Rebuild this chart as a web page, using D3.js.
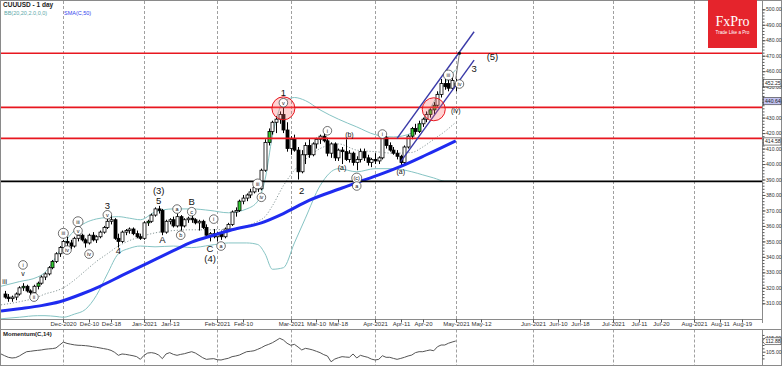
<!DOCTYPE html>
<html><head><meta charset="utf-8">
<script src="https://cdnjs.cloudflare.com/ajax/libs/d3/7.8.5/d3.min.js"></script>
<style>body{margin:0;background:#fff}svg{display:block;font-family:"Liberation Sans",Arial,sans-serif}</style>
</head><body><svg id="c" width="782" height="366"></svg>
<script>
// ---------------- DATA ----------------
const title = "CUUUSD - 1 day";
const bbLabel = "BB(20,20,2.0,0,0)";
const smaLabel = "SMA(C,50)";
const momLabel = "Momentum(C,14)";
const holidays = ["2020-12-25", "2021-01-01"];
const candleStart = "2020-11-09";
// [open, high, low, close] one per trading day from candleStart
const candles = [
[316,318,313,314],[314,316,311,313],[313,315,311,314],[314,317,312,316],[316,321,315,320],
[320,323,318,321],[321,322,317,318],[318,319,314,317],[317,322,316,321],[321,324,319,323],
[323,328,322,327],[327,330,325,329],[329,334,328,333],[333,338,332,337],[337,343,336,342],
[342,347,340,346],[346,351,344,350],[350,353,347,349],[349,351,345,347],[347,353,346,352],
[352,356,350,354],[354,355,350,351],[351,352,346,349],[349,355,348,354],[354,356,350,351],
[351,354,349,353],[353,357,352,356],[356,360,355,359],[359,365,358,363],[363,367,361,364],
[364,365,351,352],[352,355,346,350],[350,357,349,356],[356,358,354,357],[357,359,355,358],
[358,359,354,355],[355,357,352,353],[353,355,351,352],[352,363,351,362],[362,364,360,363],
[363,368,362,367],[367,372,366,371],[371,373,368,370],[370,371,354,356],[356,364,355,363],
[363,365,361,364],[364,366,359,360],[360,368,359,366],[366,367,357,360],[360,365,359,364],
[364,366,362,365],[365,367,362,364],[364,365,361,362],[362,364,357,363],[363,364,358,359],
[359,361,353,354],[354,356,350,355],[355,358,352,353],[353,356,350,355],[355,357,351,353],
[353,359,352,358],[358,362,357,361],[361,370,360,369],[369,372,366,370],[370,377,369,376],
[376,380,374,378],[378,381,376,380],[380,384,378,382],[382,386,381,385],[385,387,382,384],
[384,397,383,396],[396,416,395,414],[414,423,412,421],[421,428,419,427],[427,431,420,429],
[429,434,426,432],[432,441,420,422],[422,427,408,410],[410,418,406,416],[416,419,408,409],
[409,411,390,395],[395,409,394,406],[406,414,400,412],[412,416,404,406],[406,414,405,413],
[413,417,410,416],[416,419,413,418],[418,420,414,415],[415,417,405,407],[407,414,404,413],
[413,414,402,404],[404,410,402,409],[409,411,400,408],[408,416,402,403],[403,409,401,407],
[407,408,399,401],[401,405,396,403],[403,410,401,408],[408,410,402,404],[404,406,399,401],
[401,404,398,403],[403,407,400,402],[402,405,400,404],[404,419,403,417],[417,418,410,412],
[412,414,408,409],[409,411,406,407],[407,409,403,405],[405,406,399,401],[401,412,400,411],
[411,419,410,418],[418,424,416,423],[423,426,419,421],[421,428,420,426],[426,430,424,429],
[429,434,427,432],[432,436,430,435],[435,440,432,438],[438,447,437,445],[445,455,443,452],
[452,455,448,450],[452,456,447,449],[449,456,448,454],[450,455,447,452]
];
const greenBars = ["2020-11-16","2020-11-20","2020-11-26","2021-01-05","2021-02-09","2021-02-19","2021-04-15","2021-04-19","2021-04-22","2021-04-23"];
// Bollinger band readings
const bbDates = ["2020-11-06","2020-11-13","2020-11-20","2020-11-24","2020-11-27","2020-12-01","2020-12-04","2020-12-09","2020-12-14","2020-12-17","2020-12-22","2020-12-28","2020-12-31","2021-01-07","2021-01-14","2021-01-21","2021-01-28","2021-02-04","2021-02-11","2021-02-16","2021-02-18","2021-02-22","2021-02-25","2021-03-02","2021-03-05","2021-03-11","2021-03-18","2021-03-25","2021-04-01","2021-04-08","2021-04-15","2021-04-20","2021-04-23","2021-04-28","2021-05-03"];
const bbUpper = [321,324,327,330,340,348,357,362,364.5,365.5,366,365,364,369,371,371,370,368.5,371,376,390,418,440,443,441,435,429,424,419,417.5,420,428,440,452,461];
const bbMiddle = [309,311,314,316,318,320,325,331,337,342,347,350.5,353,355.5,357,357.5,357.5,358,360,363,366,373,386,396,403,410,413,409,408,407,407.5,411,416,421,427];
const bbLower = [300,301,302,302,301.5,301,303,306,315,329,342,345.5,347,346.5,347,346,347.5,349,349,348,342,332,333,349,365,386,397,395,397,397,395,393,391,389,389];
// SMA(C,50) readings
const smaDates = ["2020-11-06","2020-11-13","2020-11-23","2020-11-30","2020-12-08","2020-12-15","2020-12-23","2021-01-05","2021-01-14","2021-01-21","2021-01-29","2021-02-05","2021-02-17","2021-02-25","2021-03-08","2021-03-19","2021-03-25","2021-04-02","2021-04-12","2021-04-21","2021-05-03"];
const smaValues = [305,306.5,308.5,311,316,321,328,336,344,349.5,354,357.5,362,368,376.5,384.5,388,393,398.5,406,415];
// Momentum(C,14) one per trading day from momStart
const momStart = "2020-11-06";
const momentum = [103.3,102.0,100.8,100.3,100.6,101.8,103.5,105.0,105.3,105.7,106.0,106.3,106.8,107.1,107.3,107.8,110.0,
112.2,111.2,110.6,110.1,109.8,109.7,109.5,109.2,108.7,108.3,107.8,107.3,106.8,106.0,104.5,102.3,103.3,103.0,102.5,102.0,101.3,99.3,
102.3,104.0,104.3,103.8,102.5,99.8,103.3,104.3,103.0,102.3,103.0,103.5,104.3,105.0,104.0,102.3,100.5,99.3,99.6,99.8,
99.0,98.8,99.5,100.1,101.3,101.8,102.5,103.8,105.0,105.3,105.7,106.8,108.0,109.5,110.5,111.7,113.3,115.0,113.7,111.3,
109.8,110.5,108.5,106.3,107.5,107.0,106.3,105.3,104.3,102.8,101.8,97.5,99.5,100.5,101.3,101.0,100.8,103.3,100.3,102.3,101.5,100.8,99.5,
98.8,99.3,102.0,100.8,100.8,100.0,99.3,100.0,100.8,101.8,102.5,104.3,105.0,105.0,105.7,106.3,105.7,108.7,110.0,110.0,111.3,112.2,113.0];
// horizontal levels
const redLevels = [471.6, 436.6, 416.6];
const blackLevels = [388.8];
// wave channel lines [date1, price1, date2, price2]
const channels = [["2021-04-09",416.6,"2021-05-10",485.5],["2021-04-12",401.6,"2021-05-10",467.2]];
const target = ["2021-05-03",455,"2021-05-04",471.6];
const circles = [["2021-02-25",436.0],["2021-04-23",435.4]];
// wave labels [date, price, text, kind]  kind: n=big plain, p=small plain, c=circled
const waveLabels = [
["2020-11-09",324,"iii","p"],["2020-11-16",334.8,"i","c"],["2020-11-16",329.4,"v","p"],["2020-11-19",314,"ii","c"],
["2020-12-01",355.2,"iii","c"],["2020-12-02",344.4,"iv","c"],["2020-12-07",362.7,"iii","c"],["2020-12-07",356.9,"v","c"],
["2020-12-10",341.8,"iv","c"],["2020-12-17",367.2,"v","c"],["2020-12-17",373.5,"3","n"],["2020-12-22",344.4,"4","n"],
["2021-01-08",376.5,"5","n"],["2021-01-08",383.2,"(3)","n"],["2021-01-11",351.5,"A","n"],["2021-01-15",370.9,"a","c"],
["2021-01-18",354,"b","c"],["2021-01-21",376.1,"B","n"],["2021-01-21",369.2,"c","c"],["2021-01-29",364.4,"i","c"],
["2021-01-28",345.7,"C","n"],["2021-01-28",339.2,"(4)","n"],["2021-02-02",347,"a","c"],["2021-02-16",387.1,"iii","c"],
["2021-02-17",378.5,"iv","c"],["2021-02-25",439.6,"v","c"],["2021-02-25",446.3,"1","n"],["2021-03-04",383.2,"2","n"],
["2021-03-15",421.5,"i","c"],["2021-03-23",419.4,"(b)","p"],["2021-03-19",398,"(a)","p"],["2021-03-25",390.9,"(c)","c"],
["2021-03-25",385.8,"a","c"],["2021-04-05",419.4,"i","c"],["2021-04-12",395.5,"(a)","p"],["2021-04-29",457.5,"iii","c"],
["2021-05-04",451.7,"iv","c"],["2021-05-03",434.5,"(iv)","p"],["2021-05-17",469.4,"(5)","n"],["2021-05-10",461.9,"3","n"]
];
const priceTicks = [310,320,330,340,350,360,370,380,390,400,410,420,430,440,450,460,470,480,490,500];
const priceBoxes = [[452.25,"#fff"],[440.64,"#c4c4f2"],[414.58,"#fff"]];
const momTicks = [105,115];
const momBox = 112.88;
const monthLines = ["2020-12-01","2021-01-04","2021-02-01","2021-03-01","2021-04-01","2021-05-03","2021-06-01","2021-07-01","2021-08-02"];
const xTicks = [["2020-12-01","Dec-2020"],["2020-12-10","Dec-10"],["2020-12-18","Dec-18"],["2021-01-04","Jan-2021"],["2021-01-13","Jan-13"],
["2021-02-01","Feb-2021"],["2021-02-10","Feb-10"],["2021-03-01","Mar-2021"],["2021-03-10","Mar-10"],["2021-03-18","Mar-18"],
["2021-04-01","Apr-2021"],["2021-04-12","Apr-11"],["2021-04-20","Apr-20"],["2021-05-03","May-2021"],["2021-05-12","May-12"],
["2021-06-01","Jun-2021"],["2021-06-10","Jun-10"],["2021-06-18","Jun-18"],["2021-07-01","Jul-2021"],["2021-07-12","Jul-11"],
["2021-07-20","Jul-20"],["2021-08-02","Aug-2021"],["2021-08-11","Aug-11"],["2021-08-19","Aug-19"]];

// ---------------- CALENDAR & SCALES ----------------
const fmt = d3.utcFormat("%Y-%m-%d");
const days = d3.utcDay.range(new Date("2020-11-06T00:00:00Z"), new Date("2021-09-01T00:00:00Z"))
  .filter(d => d.getUTCDay() % 6 !== 0).map(fmt).filter(s => !holidays.includes(s));
const dayIdx = new Map(days.map((d, i) => [d, i]));
const x = d3.scaleLinear().domain([0, 207.5]).range([1, 762]);
const X = s => x(dayIdx.get(s));
const y = d3.scaleLinear().domain([310, 500]).range([303.3, 9.3]);
const ym = d3.scaleLinear().domain([105, 115]).range([351.7, 338.3]);
const AX = 762.5, MAIN_B = 319.5, MOM_T = 329.5, MOM_B = 365.5;
const AXF = 5.1; // axis label font size

const svg = d3.select("#c");
svg.append("rect").attr("x",0).attr("y",0).attr("width",782).attr("height",366).attr("fill","#fff");
const defs = svg.append("defs");
defs.append("clipPath").attr("id","cm").append("rect").attr("x",1).attr("y",1).attr("width",761).attr("height",318);
defs.append("clipPath").attr("id","cmo").append("rect").attr("x",1).attr("y",330).attr("width",761).attr("height",35);

// month grid lines
monthLines.forEach(d => {
  const xx = Math.round(X(d)) + 0.5;
  svg.append("line").attr("x1",xx).attr("x2",xx).attr("y1",1).attr("y2",MAIN_B).attr("stroke","#a0a0a0").attr("stroke-dasharray","3,2");
  svg.append("line").attr("x1",xx).attr("x2",xx).attr("y1",MOM_T).attr("y2",MOM_B).attr("stroke","#a0a0a0").attr("stroke-dasharray","3,2");
});

const main = svg.append("g").attr("clip-path","url(#cm)");

// Bollinger bands
const bbLine = vals => d3.line().x((d,i)=>X(bbDates[i])).y(d=>y(d)).curve(d3.curveMonotoneX)(vals);
main.append("path").attr("d",bbLine(bbUpper)).attr("fill","none").attr("stroke","#86c4c4").attr("stroke-width",1);
main.append("path").attr("d",bbLine(bbLower)).attr("fill","none").attr("stroke","#86c4c4").attr("stroke-width",1);
main.append("path").attr("d",bbLine(bbMiddle)).attr("fill","none").attr("stroke","#8a9a9a").attr("stroke-width",1).attr("stroke-dasharray","1.2,1.8");

// candles
const startI = dayIdx.get(candleStart);
const cg = main.append("g");
candles.forEach((c, i) => {
  const d = days[startI + i];
  const cx = Math.round(x(startI + i)) + 0.5;
  const [o,h,l,cl] = c;
  cg.append("line").attr("x1",cx).attr("x2",cx).attr("y1",y(h)).attr("y2",y(l)).attr("stroke","#000").attr("stroke-width",1);
  const top = y(Math.max(o,cl)), bot = y(Math.min(o,cl));
  const up = cl >= o;
  const fill = up ? (greenBars.includes(d) ? "#33cc33" : "#fff") : "#000";
  cg.append("rect").attr("x",cx-1.5).attr("y",top).attr("width",3).attr("height",Math.max(1,bot-top))
    .attr("fill",fill).attr("stroke","#000").attr("stroke-width",0.8);
});

// SMA 50
main.append("path").attr("d", d3.line().x((d,i)=>X(smaDates[i])).y(d=>y(d)).curve(d3.curveMonotoneX)(smaValues))
  .attr("fill","none").attr("stroke","#1f2bf0").attr("stroke-width",3);

// horizontal levels
redLevels.forEach(v => main.append("line").attr("x1",1).attr("x2",AX).attr("y1",y(v)).attr("y2",y(v)).attr("stroke","#e8171f").attr("stroke-width",1.6));
blackLevels.forEach(v => main.append("line").attr("x1",1).attr("x2",AX).attr("y1",y(v)).attr("y2",y(v)).attr("stroke","#000").attr("stroke-width",1.6));

// channels
channels.forEach(c => main.append("line").attr("x1",X(c[0])).attr("y1",y(c[1])).attr("x2",X(c[2])).attr("y2",y(c[3]))
  .attr("stroke","#3a3aa8").attr("stroke-width",1.4));
main.append("line").attr("x1",X(target[0])).attr("y1",y(target[1])).attr("x2",X(target[2])).attr("y2",y(target[3])).attr("stroke","#555").attr("stroke-width",0.8);
main.append("circle").attr("cx",X(target[2])).attr("cy",y(target[3])).attr("r",1.6).attr("fill","#111");

// red circles
circles.forEach(c => main.append("circle").attr("cx",X(c[0])).attr("cy",y(c[1])).attr("r",11.5)
  .attr("fill","rgba(255,110,110,0.3)").attr("stroke","#e8171f").attr("stroke-width",1));

// wave labels
waveLabels.forEach(([d,v,t,k]) => {
  const cx = X(d), cy = y(v);
  if (k === "c") {
    main.append("circle").attr("cx",cx).attr("cy",cy).attr("r",t.length>2?5:4.3).attr("fill","#fff").attr("stroke","#333").attr("stroke-width",0.7);
    main.append("text").attr("x",cx).attr("y",cy).attr("text-anchor","middle").attr("dominant-baseline","central")
      .attr("font-size",5.5).attr("fill","#111").text(t);
  } else {
    main.append("text").attr("x",cx).attr("y",cy).attr("text-anchor","middle").attr("dominant-baseline","central")
      .attr("font-size",k==="n"?9.5:7).attr("fill","#111").text(t);
  }
});

// ---------------- MOMENTUM ----------------
const ms = dayIdx.get(momStart);
svg.append("g").attr("clip-path","url(#cmo)").append("path")
  .attr("d", d3.line().x((d,i)=>x(ms+i)).y(d=>ym(d))(momentum))
  .attr("fill","none").attr("stroke","#555").attr("stroke-width",1);

// ---------------- FRAMES & AXES ----------------
svg.append("rect").attr("x",0.5).attr("y",0.5).attr("width",781).attr("height",365).attr("fill","none").attr("stroke","#8a8a8a");
svg.append("line").attr("x1",0).attr("x2",AX).attr("y1",MAIN_B).attr("y2",MAIN_B).attr("stroke","#8a8a8a");
svg.append("line").attr("x1",0).attr("x2",782).attr("y1",MOM_T).attr("y2",MOM_T).attr("stroke","#8a8a8a");
svg.append("line").attr("x1",AX).attr("x2",AX).attr("y1",0).attr("y2",323).attr("stroke","#8a8a8a");
svg.append("line").attr("x1",AX).attr("x2",AX).attr("y1",MOM_T).attr("y2",MOM_B).attr("stroke","#8a8a8a");

// right price axis
const minor = svg.append("g").attr("transform",`translate(${AX},0)`)
  .call(d3.axisRight(y).tickValues(d3.range(310, 501, 2)).tickSize(2).tickFormat(""));
const major = svg.append("g").attr("transform",`translate(${AX},0)`)
  .call(d3.axisRight(y).tickValues(priceTicks).tickSize(3).tickPadding(0.5).tickFormat(d => d.toFixed(2)));
[minor, major].forEach(g => { g.select(".domain").remove(); g.selectAll("line").attr("stroke","#555"); });
major.selectAll("text").attr("font-size",AXF).attr("fill","#333").attr("font-family","Liberation Sans, Arial");

priceBoxes.forEach(([v, fill]) => {
  const g = svg.append("g").attr("transform",`translate(${AX},${y(v)})`);
  g.append("rect").attr("x",1).attr("y",-3.6).attr("width",17.5).attr("height",7.2).attr("fill",fill).attr("stroke","#333").attr("stroke-width",0.6);
  g.append("text").attr("x",2.5).attr("y",0).attr("dominant-baseline","central").attr("font-size",AXF).attr("fill","#222").text(v.toFixed(2));
});

// momentum axis
const mminor = svg.append("g").attr("transform",`translate(${AX},0)`)
  .call(d3.axisRight(ym).tickValues([100,102.5,107.5,110,112.5,117.5]).tickSize(2).tickFormat(""));
const mmajor = svg.append("g").attr("transform",`translate(${AX},0)`)
  .call(d3.axisRight(ym).tickValues(momTicks).tickSize(3).tickPadding(0.5).tickFormat(d => d.toFixed(2)));
[mminor, mmajor].forEach(g => { g.select(".domain").remove(); g.selectAll("line").attr("stroke","#555"); });
mmajor.selectAll("text").attr("font-size",AXF).attr("fill","#333");
{
  const g = svg.append("g").attr("transform",`translate(${AX},${ym(momBox)})`);
  g.append("path").attr("d","M0,0 L2.5,-3.4 L18.5,-3.4 L18.5,3.4 L2.5,3.4 Z").attr("fill","#fff").attr("stroke","#333").attr("stroke-width",0.6);
  g.append("text").attr("x",3).attr("y",0).attr("dominant-baseline","central").attr("font-size",AXF).attr("fill","#222").text(momBox.toFixed(2));
}

// x axis labels
xTicks.forEach(([d, t]) => {
  const xx = Math.round(X(d)) + 0.5;
  svg.append("line").attr("x1",xx).attr("x2",xx).attr("y1",MAIN_B).attr("y2",MAIN_B+3).attr("stroke","#555");
  svg.append("text").attr("x",xx).attr("y",326).attr("text-anchor","middle").attr("font-size",6).attr("fill","#333").text(t);
});

// titles
svg.append("text").attr("x",3).attr("y",7).attr("font-size",6.5).attr("font-weight","bold").attr("fill","#222").text(title);
svg.append("text").attr("x",4).attr("y",14.5).attr("font-size",5.5).attr("fill","#5aa8a8").text(bbLabel);
svg.append("text").attr("x",64).attr("y",14.5).attr("font-size",5.5).attr("fill","#3344ee").text(smaLabel);
svg.append("text").attr("x",3).attr("y",336).attr("font-size",6).attr("font-weight","bold").attr("fill","#222").text(momLabel);

// FxPro logo
svg.append("rect").attr("x",708).attr("y",0).attr("width",49).attr("height",48).attr("fill","#e5242c");
svg.append("text").attr("x",732.5).attr("y",26).attr("text-anchor","middle").attr("font-family","Liberation Serif, DejaVu Serif, serif")
  .attr("font-size",14).attr("fill","#fff").text("FxPro");
svg.append("text").attr("x",732.5).attr("y",33.5).attr("text-anchor","middle").attr("font-size",4.6).attr("fill","#fff").text("Trade Like a Pro");
</script></body></html>
